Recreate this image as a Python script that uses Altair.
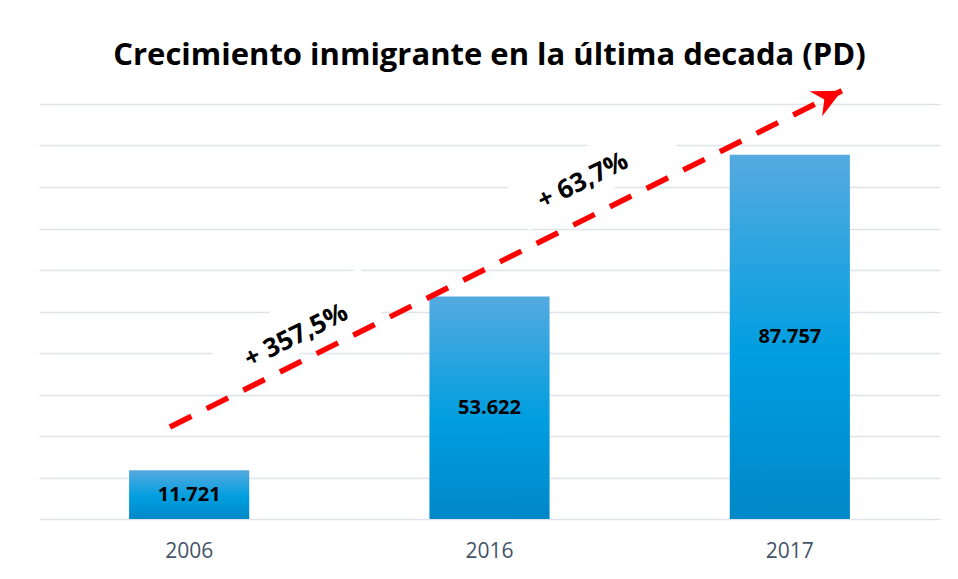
import altair as alt
import pandas as pd

# ---- chart data ----
years = ["2006", "2016", "2017"]
values = [11721, 53622, 87757]
value_labels = ["11.721", "53.622", "87.757"]

# ---- annotation data (growth arrow, in data units: x = category slot, y = persons) ----
arrow_x = [0.436, 2.673]
arrow_y = [22170, 103200]
growth_labels = ["+ 357,5%", "+ 63,7%"]
growth_x = [0.856, 1.811]
growth_y = [44100, 81450]
box_x = [0.852, 1.848]
box_y = [46020, 84100]

FONT = "Open Sans"
ANGLE = 333.4

bars_df = pd.DataFrame({"year": years, "value": values, "label": value_labels})
bars_df["half"] = bars_df["value"] / 2
arrow_df = pd.DataFrame({"ax": arrow_x, "ay": arrow_y})
head_df = arrow_df.tail(1)
growth_df = pd.DataFrame({"gx": growth_x, "gy": growth_y, "text": growth_labels})
box_df = pd.DataFrame({"bx": box_x, "by": box_y})

gradient = alt.Gradient(
    gradient="linear",
    stops=[
        alt.GradientStop(color="#55aadf", offset=0),
        alt.GradientStop(color="#009ee0", offset=0.55),
        alt.GradientStop(color="#0088c8", offset=1),
    ],
    x1=0, x2=0, y1=0, y2=1,
)

y_scale = alt.Scale(domain=[0, 100000], nice=False)
x_band = alt.Scale(paddingInner=0.6, paddingOuter=0.3)
x_lin = alt.Scale(domain=[0, 3], nice=False, zero=False)

bars = alt.Chart(bars_df).mark_bar(color=gradient).encode(
    x=alt.X("year:N", scale=x_band, sort=years,
            axis=alt.Axis(title=None, labelAngle=0, ticks=False, domain=False,
                          labelFont=FONT, labelFontSize=21, labelColor="#44546a",
                          labelPadding=21, grid=False)),
    y=alt.Y("value:Q", scale=y_scale,
            axis=alt.Axis(title=None, values=list(range(0, 100001, 10000)),
                          labels=False, ticks=False, domain=False, grid=True,
                          gridColor="#dfe4ea", gridWidth=1.6)),
)

bar_text = alt.Chart(bars_df).mark_text(
    font=FONT, fontSize=20, fontWeight="bold", color="black", baseline="middle"
).encode(
    x=alt.X("year:N", scale=x_band, sort=years),
    y=alt.Y("half:Q", scale=y_scale),
    text="label:N",
)

boxes = alt.Chart(box_df).mark_point(
    shape="M-1,-0.294L1,-0.294L1,0.294L-1,0.294Z", size=28900, filled=True,
    color="white", opacity=1, strokeWidth=0, angle=ANGLE
).encode(
    x=alt.X("bx:Q", scale=x_lin, axis=None),
    y=alt.Y("by:Q", scale=y_scale),
)

arrow = alt.Chart(arrow_df).mark_line(
    color="#ff0000", strokeWidth=5.5, strokeDash=[24, 17], strokeCap="butt"
).encode(
    x=alt.X("ax:Q", scale=x_lin, axis=None),
    y=alt.Y("ay:Q", scale=y_scale),
)

head = alt.Chart(head_df).mark_point(
    shape="M0,0L-2,-0.97L-1.35,0L-2,0.97Z", size=841, filled=True,
    color="#ff0000", opacity=1, strokeWidth=0, angle=ANGLE
).encode(
    x=alt.X("ax:Q", scale=x_lin, axis=None),
    y=alt.Y("ay:Q", scale=y_scale),
)

growth_text = alt.Chart(growth_df).mark_text(
    font=FONT, fontSize=26, fontWeight="bold", color="black",
    angle=ANGLE, baseline="middle", align="center"
).encode(
    x=alt.X("gx:Q", scale=x_lin, axis=None),
    y=alt.Y("gy:Q", scale=y_scale),
    text="text:N",
)

base = alt.layer(bars, bar_text)
annot = alt.layer(boxes, arrow, head, growth_text)

chart = alt.layer(base, annot).resolve_scale(x="independent").properties(
    width=901,
    height=415,
    background="white",
    title=alt.TitleParams(
        "Crecimiento inmigrante en la última decada (PD)",
        font=FONT, fontSize=31, fontWeight="bold", color="black",
        anchor="middle", offset=-16, baseline="alphabetic", frame="group",
    ),
    autosize=alt.AutoSizeParams(type="none"),
    padding={"left": 31, "top": 96, "right": 10, "bottom": 52},
).configure_view(stroke="transparent", strokeWidth=0)

chart.save("out.html", embed_options={"renderer": "svg", "actions": False})
